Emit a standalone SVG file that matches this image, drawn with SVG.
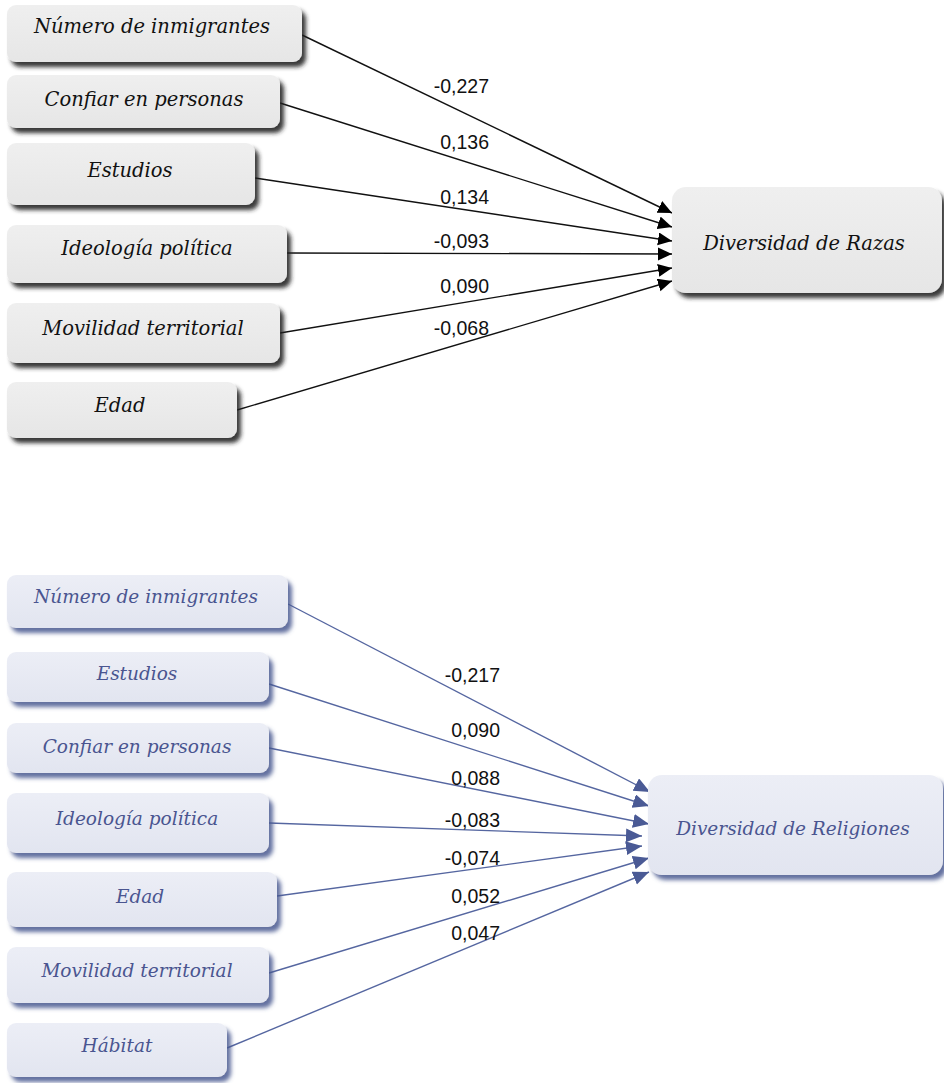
<svg xmlns="http://www.w3.org/2000/svg" width="944" height="1083" viewBox="0 0 944 1083">
<style>
.bk rect{fill:url(#gGray);filter:url(#shK)}
.bl rect{fill:url(#gBlue);filter:url(#shB)}
.bk text{font-family:"DejaVu Serif","Liberation Serif",serif;font-style:italic;font-size:19.5px;fill:#111;text-anchor:middle}
.bl text{font-family:"DejaVu Serif","Liberation Serif",serif;font-style:italic;font-size:18.5px;fill:#4a5590;text-anchor:middle}
.lab{font-family:"Liberation Sans",Arial,sans-serif;font-size:19.5px;fill:#111;text-anchor:end}
.ck{stroke:#111;stroke-width:1.4;fill:none;marker-end:url(#aK)}
.cb{stroke:#5566a0;stroke-width:1.4;fill:none;marker-end:url(#aB)}
</style>
<defs>
<linearGradient id="gGray" x1="0" y1="0" x2="0" y2="1"><stop offset="0" stop-color="#efefef"/><stop offset="1" stop-color="#e6e6e6"/></linearGradient>
<linearGradient id="gBlue" x1="0" y1="0" x2="0" y2="1"><stop offset="0" stop-color="#eceef6"/><stop offset="1" stop-color="#e2e5f0"/></linearGradient>
<filter id="shK" x="-10%" y="-20%" width="125%" height="150%"><feDropShadow dx="4" dy="5" stdDeviation="2.2" flood-color="#222" flood-opacity="0.9"/></filter>
<filter id="shB" x="-10%" y="-20%" width="125%" height="150%"><feDropShadow dx="4" dy="5" stdDeviation="2.2" flood-color="#4a5890" flood-opacity="0.85"/></filter>
<marker id="aK" markerUnits="userSpaceOnUse" markerWidth="16" markerHeight="14" refX="14" refY="6.5" orient="auto"><path d="M0,0 L14,6.5 L0,13 Z" fill="#000"/></marker>
<marker id="aB" markerUnits="userSpaceOnUse" markerWidth="18" markerHeight="16" refX="16" refY="7" orient="auto"><path d="M0,0 L16,7 L0,14 Z" fill="#4a5a95"/></marker>
</defs>
<rect width="944" height="1083" fill="#fff"/>

<g id="connectors">
<path class="ck" d="M302,35 L672,213"/>
<path class="ck" d="M280,103 L672,227"/>
<path class="ck" d="M255,178 L672,241"/>
<path class="ck" d="M287,253 L672,254"/>
<path class="ck" d="M280,333 L672,268"/>
<path class="ck" d="M237,410 L672,281"/>
<path class="cb" d="M288,604 L650,792"/>
<path class="cb" d="M269,684 L649,806"/>
<path class="cb" d="M269,748 L649,824"/>
<path class="cb" d="M269,823 L642,836"/>
<path class="cb" d="M277,896 L642,846"/>
<path class="cb" d="M269,973 L649,858"/>
<path class="cb" d="M227,1048 L649,872"/>
</g>

<g id="labels">
<text class="lab" x="489" y="93">-0,227</text>
<text class="lab" x="489" y="149">0,136</text>
<text class="lab" x="489" y="204">0,134</text>
<text class="lab" x="489" y="248">-0,093</text>
<text class="lab" x="489" y="293">0,090</text>
<text class="lab" x="489" y="335">-0,068</text>
<text class="lab" x="500" y="682">-0,217</text>
<text class="lab" x="500" y="737">0,090</text>
<text class="lab" x="500" y="785">0,088</text>
<text class="lab" x="500" y="827">-0,083</text>
<text class="lab" x="500" y="865">-0,074</text>
<text class="lab" x="500" y="903">0,052</text>
<text class="lab" x="500" y="940">0,047</text>
</g>

<g id="t1" class="bk"><rect x="7" y="5" width="295" height="57" rx="9"/><text x="152" y="33">Número de inmigrantes</text></g>
<g id="t2" class="bk"><rect x="7" y="75" width="273" height="53" rx="9"/><text x="144" y="106">Confiar en personas</text></g>
<g id="t3" class="bk"><rect x="7" y="143" width="248" height="62" rx="9"/><text x="130" y="177">Estudios</text></g>
<g id="t4" class="bk"><rect x="7" y="225" width="280" height="58" rx="9"/><text x="147" y="255">Ideología política</text></g>
<g id="t5" class="bk"><rect x="7" y="303" width="273" height="60" rx="9"/><text x="143" y="335">Movilidad territorial</text></g>
<g id="t6" class="bk"><rect x="7" y="382" width="230" height="56" rx="9"/><text x="120" y="412">Edad</text></g>
<g id="t7" class="bk"><rect x="672" y="187" width="270" height="106" rx="14"/><text x="804" y="250">Diversidad de Razas</text></g>

<g id="b1" class="bl"><rect x="7" y="575" width="281" height="53" rx="9"/><text x="146" y="603">Número de inmigrantes</text></g>
<g id="b2" class="bl"><rect x="7" y="652" width="262" height="50" rx="9"/><text x="137" y="680">Estudios</text></g>
<g id="b3" class="bl"><rect x="7" y="723" width="262" height="50" rx="9"/><text x="137" y="753">Confiar en personas</text></g>
<g id="b4" class="bl"><rect x="7" y="793" width="262" height="60" rx="9"/><text x="137" y="825">Ideología política</text></g>
<g id="b5" class="bl"><rect x="7" y="872" width="270" height="55" rx="9"/><text x="140" y="903">Edad</text></g>
<g id="b6" class="bl"><rect x="7" y="947" width="262" height="56" rx="9"/><text x="137" y="977">Movilidad territorial</text></g>
<g id="b7" class="bl"><rect x="7" y="1023" width="220" height="54" rx="9"/><text x="117" y="1052">Hábitat</text></g>
<g id="b8" class="bl"><rect x="648" y="775" width="295" height="100" rx="14"/><text x="793" y="835">Diversidad de Religiones</text></g>
</svg>
